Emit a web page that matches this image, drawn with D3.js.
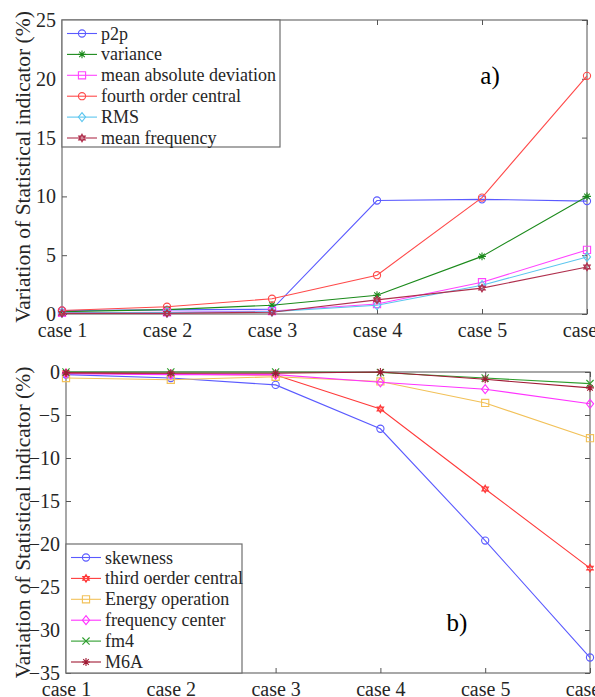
<!DOCTYPE html>
<html>
<head>
<meta charset="utf-8">
<script src="https://cdn.jsdelivr.net/npm/d3@7"></script>
<style>
  body { margin: 0; background: #fff; }
  svg { display: block; }
  svg text { font-family: "Liberation Serif", "Times New Roman", serif; }
</style>
</head>
<body>
<div id="chart"></div>
<script>
const CASES = ["case 1", "case 2", "case 3", "case 4", "case 5", "case 6"];
const SERIF = "Liberation Serif";

// panel a)
const TOP_NAMES = ["p2p", "variance", "mean absolute deviation", "fourth order central", "RMS", "mean frequency"];
const P2P = [0.3, 0.35, 0.4, 9.65, 9.75, 9.6];
const VARIANCE = [0.2, 0.37, 0.75, 1.6, 4.9, 10.0];
const MEAN_ABS_DEV = [0.1, 0.15, 0.25, 0.85, 2.7, 5.45];
const FOURTH_CENTRAL = [0.3, 0.62, 1.3, 3.3, 9.9, 20.25];
const RMS = [0.1, 0.12, 0.2, 0.75, 2.45, 4.85];
const MEAN_FREQ = [0.05, 0.05, 0.15, 1.2, 2.2, 4.0];
const TOP_TICKS = [0, 5, 10, 15, 20, 25];

// panel b)
const BOTTOM_NAMES = ["skewness", "third oerder central", "Energy operation", "frequency center", "fm4", "M6A"];
const SKEWNESS = [-0.3, -0.7, -1.5, -6.6, -19.6, -33.2];
const THIRD_CENTRAL = [-0.1, -0.25, -0.35, -4.3, -13.6, -22.8];
const ENERGY_OP = [-0.7, -0.9, -0.55, -1.1, -3.6, -7.7];
const FREQ_CENTER = [-0.2, -0.3, -0.3, -1.2, -2.0, -3.7];
const FM4 = [0, 0, 0, -0.05, -0.7, -1.35];
const M6A = [-0.1, -0.15, -0.15, 0, -0.85, -1.85];
const BOTTOM_TICKS = [-35, -30, -25, -20, -15, -10, -5, 0];

const topSeries = [
  { name: TOP_NAMES[0], values: P2P, color: "#5a5aff", marker: "circle" },
  { name: TOP_NAMES[1], values: VARIANCE, color: "#1b8a1b", marker: "star" },
  { name: TOP_NAMES[2], values: MEAN_ABS_DEV, color: "#ff44ff", marker: "square" },
  { name: TOP_NAMES[3], values: FOURTH_CENTRAL, color: "#ff4a4a", marker: "circle" },
  { name: TOP_NAMES[4], values: RMS, color: "#5cc6ef", marker: "diamond" },
  { name: TOP_NAMES[5], values: MEAN_FREQ, color: "#b0304e", marker: "hexagram" }
];

const bottomSeries = [
  { name: BOTTOM_NAMES[0], values: SKEWNESS, color: "#5a5aff", marker: "circle" },
  { name: BOTTOM_NAMES[1], values: THIRD_CENTRAL, color: "#ff3a3a", marker: "hexagram" },
  { name: BOTTOM_NAMES[2], values: ENERGY_OP, color: "#f2c158", marker: "square" },
  { name: BOTTOM_NAMES[3], values: FREQ_CENTER, color: "#ff33ff", marker: "diamond" },
  { name: BOTTOM_NAMES[4], values: FM4, color: "#2e9e2e", marker: "x" },
  { name: BOTTOM_NAMES[5], values: M6A, color: "#a01a34", marker: "star" }
];

const W = 595, H = 697;
const svg = d3.select("#chart").append("svg").attr("width", W).attr("height", H);

drawPanel({
  series: topSeries, ticks: TOP_TICKS, domain: [0, 25],
  left: 62, right: 587, top: 20, bottom: 314,
  legend: { x: 62, y: 20, w: 218, h: 127 },
  tag: "a)", tagX: 490, tagY: 84
});

drawPanel({
  series: bottomSeries, ticks: BOTTOM_TICKS, domain: [-35, 0],
  left: 66, right: 590, top: 372, bottom: 673,
  legend: { x: 66, y: 544, w: 176, h: 129 },
  tag: "b)", tagX: 457, tagY: 631
});

function drawPanel(p) {
  const g = svg.append("g");
  const x = d3.scalePoint().domain(CASES).range([p.left, p.right]);
  const y = d3.scaleLinear().domain(p.domain).range([p.bottom, p.top]);
  const axisColor = "#262626";

  // box
  g.append("rect")
    .attr("x", p.left).attr("y", p.top)
    .attr("width", p.right - p.left).attr("height", p.bottom - p.top)
    .attr("fill", "none").attr("stroke", "#6e6e6e").attr("stroke-width", 1.2);

  const styleAxis = a => {
    a.attr("font-family", SERIF).attr("font-size", null);
    a.select(".domain").remove();
    a.selectAll("line").attr("stroke", "#555");
    a.selectAll("text").attr("font-size", 20).attr("font-family", SERIF).attr("fill", axisColor);
  };

  // ticks pointing inward, all four sides
  g.append("g").attr("transform", `translate(0,${p.bottom})`)
    .call(d3.axisBottom(x).tickSizeInner(-5).tickSizeOuter(0).tickPadding(9))
    .call(styleAxis);
  g.append("g").attr("transform", `translate(0,${p.top})`)
    .call(d3.axisTop(x).tickSizeInner(-5).tickSizeOuter(0).tickFormat(""))
    .call(styleAxis);
  g.append("g").attr("transform", `translate(${p.left},0)`)
    .call(d3.axisLeft(y).tickValues(p.ticks).tickSizeInner(-5).tickSizeOuter(0).tickPadding(6))
    .call(styleAxis);
  g.append("g").attr("transform", `translate(${p.right},0)`)
    .call(d3.axisRight(y).tickValues(p.ticks).tickSizeInner(-5).tickSizeOuter(0).tickFormat(""))
    .call(styleAxis);

  // y label
  g.append("text")
    .attr("transform", `translate(22.5,${(p.top + p.bottom) / 2}) rotate(-90)`)
    .attr("text-anchor", "middle")
    .attr("dominant-baseline", "central")
    .attr("font-family", SERIF)
    .attr("font-size", 21.5)
    .attr("fill", axisColor)
    .text("Variation of Statistical indicator (%)");

  const line = d3.line().x((d, i) => x(CASES[i])).y(d => y(d));

  p.series.forEach(s => {
    g.append("path")
      .attr("d", line(s.values))
      .attr("fill", "none")
      .attr("stroke", s.color)
      .attr("stroke-width", 1.1);
    s.values.forEach((v, i) => {
      drawMarker(g, s.marker, x(CASES[i]), y(v), s.color);
    });
  });

  // tag
  g.append("text")
    .attr("x", p.tagX).attr("y", p.tagY)
    .attr("text-anchor", "middle")
    .attr("font-family", SERIF)
    .attr("font-size", 25)
    .attr("fill", "#000")
    .text(p.tag);

  // legend
  const L = p.legend;
  const lg = g.append("g");
  lg.append("rect")
    .attr("x", L.x).attr("y", L.y).attr("width", L.w).attr("height", L.h)
    .attr("fill", "#fff").attr("stroke", "#6e6e6e").attr("stroke-width", 1.2);
  const rowH = 20.9;
  p.series.forEach((s, i) => {
    const cy = L.y + 13.5 + i * rowH;
    lg.append("line")
      .attr("x1", L.x + 5).attr("x2", L.x + 35)
      .attr("y1", cy).attr("y2", cy)
      .attr("stroke", s.color).attr("stroke-width", 1.1);
    drawMarker(lg, s.marker, L.x + 20, cy, s.color);
    lg.append("text")
      .attr("x", L.x + 39).attr("y", cy)
      .attr("dominant-baseline", "central")
      .attr("font-family", SERIF)
      .attr("font-size", 18)
      .attr("fill", axisColor)
      .text(s.name);
  });
}

function drawMarker(g, type, cx, cy, color) {
  const r = 3.6;
  let d;
  if (type === "circle") {
    g.append("circle").attr("cx", cx).attr("cy", cy).attr("r", r)
      .attr("fill", "none").attr("stroke", color).attr("stroke-width", 1.1);
    return;
  }
  if (type === "square") {
    d = `M${cx - r},${cy - r}h${2 * r}v${2 * r}h${-2 * r}Z`;
  } else if (type === "diamond") {
    d = `M${cx},${cy - r * 1.25}L${cx + r},${cy}L${cx},${cy + r * 1.25}L${cx - r},${cy}Z`;
  } else if (type === "x") {
    d = `M${cx - r},${cy - r}L${cx + r},${cy + r}M${cx - r},${cy + r}L${cx + r},${cy - r}`;
  } else if (type === "star") {
    const a = r * 1.1, b = a * 0.7;
    d = `M${cx},${cy - a}V${cy + a}M${cx - a},${cy}H${cx + a}` +
        `M${cx - b},${cy - b}L${cx + b},${cy + b}M${cx - b},${cy + b}L${cx + b},${cy - b}`;
  } else if (type === "hexagram") {
    const a = r * 1.05;
    const tri = off => d3.range(3).map(k => {
      const ang = off + k * 2 * Math.PI / 3;
      return [cx + a * Math.sin(ang), cy - a * Math.cos(ang)];
    });
    const t1 = tri(0), t2 = tri(Math.PI);
    d = "M" + t1.join("L") + "Z" + "M" + t2.join("L") + "Z";
  }
  g.append("path").attr("d", d)
    .attr("fill", "none").attr("stroke", color).attr("stroke-width", 1.1);
}
</script>
</body>
</html>
